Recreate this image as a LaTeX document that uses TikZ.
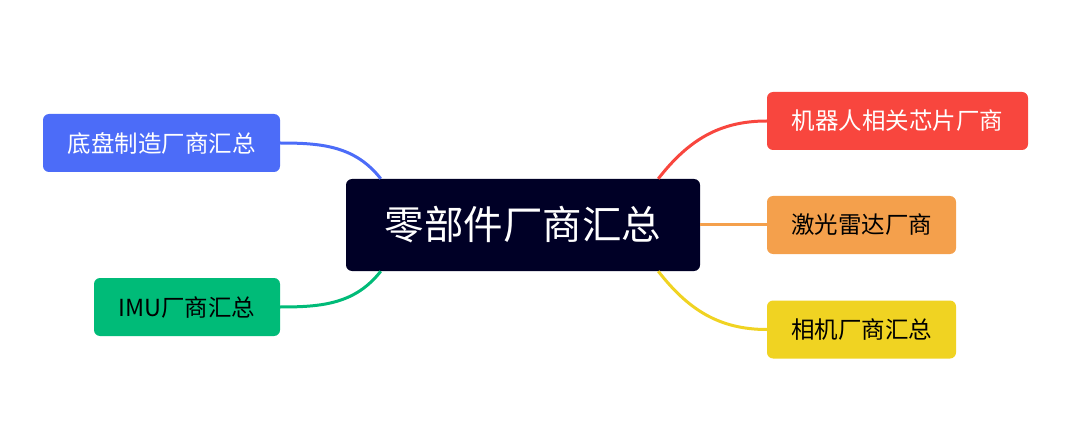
\documentclass[tikz,border=0pt]{standalone}
\usepackage{fontspec}
\setmainfont{Noto Sans CJK SC}
\definecolor{hubNavy}{HTML}{000026}
\definecolor{chassisBlue}{HTML}{4C6CF8}
\definecolor{imuGreen}{HTML}{00BB78}
\definecolor{chipRed}{HTML}{F8463E}
\definecolor{lidarOrange}{HTML}{F4A04C}
\definecolor{cameraYellow}{HTML}{F0D322}
\begin{document}
\begin{tikzpicture}[x=1pt, y=-1pt,
	hubBox/.style={rectangle, rounded corners=6pt, fill=hubNavy, text=white, inner sep=0pt, minimum width=354pt, minimum height=92pt, font=\fontsize{39.5}{42}\selectfont},
	topicBox/.style={rectangle, rounded corners=6pt, inner sep=0pt, minimum height=58pt, font=\fontsize{23.5}{26}\selectfont},
	branch/.style={line width=3pt}]
	\useasboundingbox (0,0) rectangle (1080,425);

	\node[hubBox](hub) at (523,225){零部件厂商汇总};

	\node[topicBox, fill=chassisBlue, text=white, minimum width=237pt](chassis) at (161.5,143){底盘制造厂商汇总};
	\node[topicBox, fill=imuGreen, text=black, minimum width=186pt](imu) at (187,307){IMU厂商汇总};
	\node[topicBox, fill=chipRed, text=white, minimum width=261pt](chip) at (897.5,121){机器人相关芯片厂商};
	\node[topicBox, fill=lidarOrange, text=black, minimum width=189pt](lidar) at (861.5,225){激光雷达厂商};
	\node[topicBox, fill=cameraYellow, text=black, minimum width=189pt](camera) at (861.5,329.5){相机厂商汇总};

	% draw left branches
	\draw[branch, chassisBlue] (chassis.east) to[out=0, in=128] ([xshift=35pt]hub.north west);
	\draw[branch, imuGreen] (imu.east) to[out=0, in=-128] ([xshift=35pt]hub.south west);

	% draw right branches
	\draw[branch, chipRed] (chip.west) to[out=180, in=52] ([xshift=-42pt]hub.north east);
	\draw[branch, lidarOrange] (hub.east) -- (lidar.west);
	\draw[branch, cameraYellow] (camera.west) to[out=180, in=-52] ([xshift=-42pt]hub.south east);
\end{tikzpicture}
\end{document}
